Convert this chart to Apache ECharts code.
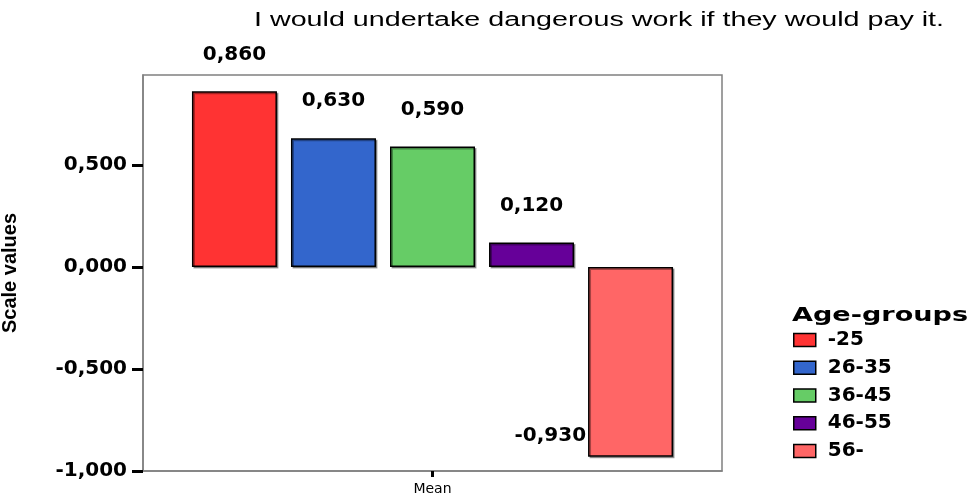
<!DOCTYPE html>
<html>
<head>
<meta charset="utf-8">
<script src="https://cdn.jsdelivr.net/npm/echarts@6/dist/echarts.min.js"></script>
<style>
  html, body { margin: 0; padding: 0; background: #ffffff; }
  #chart { width: 973px; height: 497px; }
</style>
</head>
<body>
<div id="chart"></div>
<script>
// Chart content
const chartTitle = 'I would undertake dangerous work if they would pay it.';
const categories = ['Mean'];
const groupNames = ['-25', '26-35', '36-45', '46-55', '56-'];
const groupMeans = [0.86, 0.63, 0.59, 0.12, -0.93];
const yTickValues = [-1, -0.5, 0, 0.5];
const legendTitle = 'Age-groups';
const yAxisTitle = 'Scale values';

// Fill colours, one per age group
const groupColors = ['#FF3333', '#3366CC', '#66CC66', '#660099', '#FF6666'];

// Decimal comma with three places, e.g. 0,860
function fmt(v) {
  return v.toFixed(3).replace('.', ',');
}

// Horizontal stretch factor so a text fills a given width
function stretchFor(text, font, width) {
  const ctx = document.createElement('canvas').getContext('2d');
  ctx.font = font;
  return width / ctx.measureText(text).width;
}

const titleFont = '20px "Liberation Sans"';
const legendTitleFont = 'bold 20px "DejaVu Sans"';

const chart = echarts.init(document.getElementById('chart'), null, { renderer: 'canvas' });

const series = groupNames.map(function (name, i) {
  const v = groupMeans[i];
  const label = v >= 0
    ? { show: true, position: 'top', distance: 27 }
    : { show: true, position: [-2, '89%'], align: 'right', verticalAlign: 'middle' };
  return {
    name: name,
    type: 'bar',
    data: [v],
    barWidth: 85,
    barGap: '16.5%',
    itemStyle: {
      color: groupColors[i],
      borderColor: '#000000',
      borderWidth: 1.5,
      shadowColor: 'rgba(0,0,0,0.35)',
      shadowOffsetX: 1.5,
      shadowOffsetY: 1.5,
      shadowBlur: 0
    },
    label: Object.assign(label, {
      formatter: function (p) { return fmt(p.value); },
      color: '#000000',
      fontFamily: 'DejaVu Sans',
      fontWeight: 'bold',
      fontSize: 20
    }),
    emphasis: { disabled: true }
  };
});

chart.setOption({
  animation: false,
  backgroundColor: '#ffffff',
  grid: {
    left: 143,
    right: 251,
    top: 75,
    bottom: 26,
    containLabel: false,
    outerBoundsMode: 'none',
    show: true,
    borderColor: '#808080',
    borderWidth: 1.5,
    backgroundColor: 'transparent'
  },
  xAxis: {
    type: 'category',
    data: categories,
    axisLine: { show: true, onZero: false, lineStyle: { color: '#808080', width: 1.5 } },
    axisTick: { show: true, alignWithLabel: true, length: 6, lineStyle: { color: '#000000', width: 3 } },
    axisLabel: {
      color: '#000000',
      fontFamily: 'DejaVu Sans',
      fontSize: 14,
      margin: 11
    },
    splitLine: { show: false }
  },
  yAxis: {
    type: 'value',
    min: -1,
    max: 0.94,
    name: yAxisTitle,
    nameLocation: 'middle',
    nameRotate: 90,
    nameGap: 123,
    nameTextStyle: {
      color: '#000000',
      fontFamily: 'Liberation Sans',
      fontWeight: 'bold',
      fontSize: 20
    },
    axisLine: { show: true, lineStyle: { color: '#808080', width: 1.5 } },
    axisTick: {
      show: true,
      customValues: yTickValues,
      length: 11,
      lineStyle: { color: '#000000', width: 3 }
    },
    axisLabel: {
      customValues: yTickValues,
      formatter: function (v) { return fmt(v); },
      color: '#000000',
      fontFamily: 'DejaVu Sans',
      fontWeight: 'bold',
      fontSize: 20,
      margin: 16
    },
    splitLine: { show: false }
  },
  legend: {
    orient: 'vertical',
    left: 788,
    top: 325,
    itemWidth: 22,
    itemHeight: 13,
    itemGap: 7.75,
    icon: 'rect',
    selectedMode: false,
    itemStyle: { shadowColor: 'transparent', borderWidth: 1.5, borderColor: '#000000' },
    textStyle: {
      color: '#000000',
      fontFamily: 'DejaVu Sans',
      fontWeight: 'bold',
      fontSize: 20,
      padding: [0, 0, 0, 7]
    },
    data: groupNames
  },
  graphic: [
    {
      type: 'text',
      x: 254,
      y: 20,
      scaleX: stretchFor(chartTitle, titleFont, 690),
      silent: true,
      style: {
        text: chartTitle,
        font: titleFont,
        fill: '#000000',
        align: 'left',
        verticalAlign: 'middle',
        textAlign: 'left',
        textVerticalAlign: 'middle'
      }
    },
    {
      type: 'text',
      x: 792,
      y: 316,
      scaleX: stretchFor(legendTitle, legendTitleFont, 176),
      silent: true,
      style: {
        text: legendTitle,
        font: legendTitleFont,
        fill: '#000000',
        align: 'left',
        verticalAlign: 'middle',
        textAlign: 'left',
        textVerticalAlign: 'middle'
      }
    }
  ],
  series: series
});
</script>
</body>
</html>
